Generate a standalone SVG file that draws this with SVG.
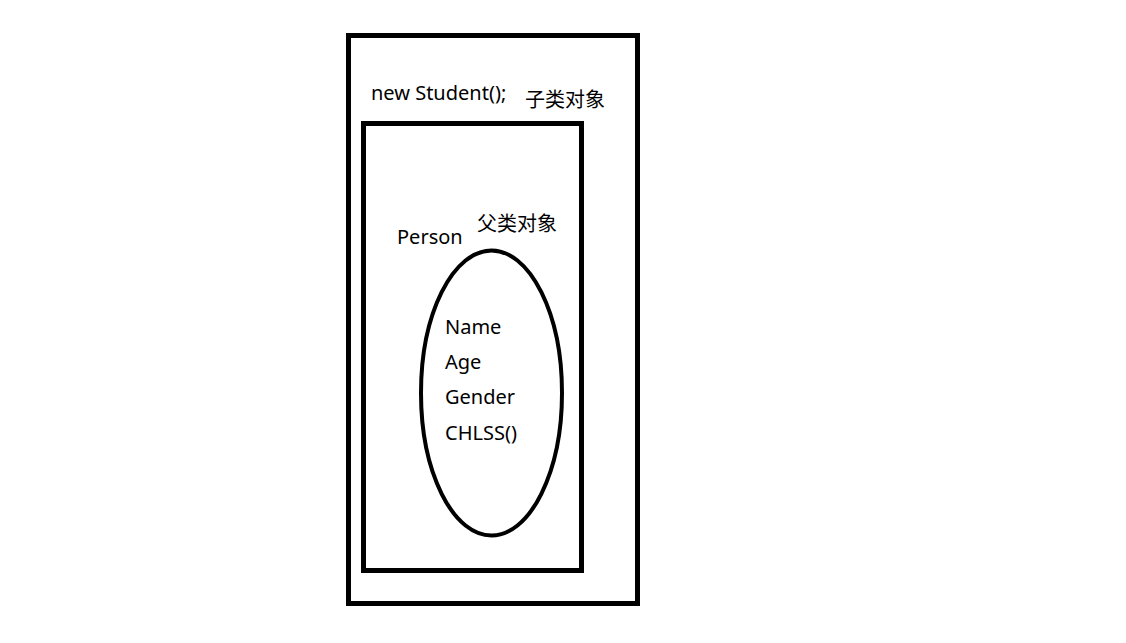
<svg xmlns="http://www.w3.org/2000/svg" width="1126" height="643" viewBox="0 0 1126 643">
<style>
.box{fill:none;stroke:#000;stroke-width:5}
.t{font-family:"Noto Sans","Noto Sans CJK SC",sans-serif;font-size:20px;fill:#000}
.c{font-family:"Noto Sans CJK SC",sans-serif;font-size:20px;fill:#000}
</style>
<rect width="1126" height="643" fill="#fff"/>
<g id="student">
<rect class="box" x="348.5" y="35.5" width="289" height="568"/>
<text class="t" x="371" y="100">new Student();</text>
<text class="c" x="525" y="107">子类对象</text>
</g>
<g id="person">
<rect class="box" x="363.5" y="123.5" width="218" height="447"/>
<text class="t" x="397" y="244">Person</text>
<text class="c" x="477" y="231">父类对象</text>
</g>
<g id="members">
<ellipse cx="491.5" cy="393" rx="70.5" ry="142.5" fill="none" stroke="#000" stroke-width="4"/>
<text class="t" x="445" y="334">Name</text>
<text class="t" x="445" y="369">Age</text>
<text class="t" x="445" y="404">Gender</text>
<text class="t" x="445" y="440">CHLSS()</text>
</g>
<g id="connectors"></g>
</svg>
